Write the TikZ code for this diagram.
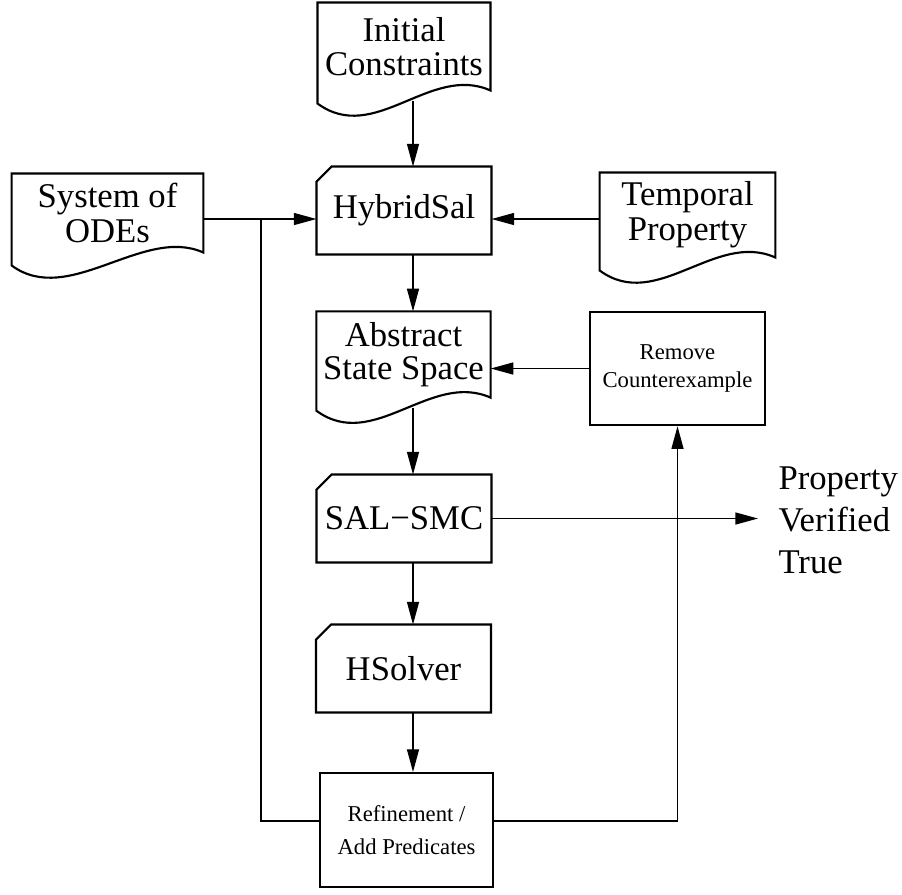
\documentclass[tikz,border=0pt]{standalone}
\usepackage{fontspec}
\setmainfont{Liberation Serif}
\usetikzlibrary{arrows.meta,calc}

\tikzset{every picture/.style={line width=0.75pt}}
\tikzset{
  boxline/.style={line width=1.6pt, line join=miter},
  doc/.style={minimum width=129pt, minimum height=64pt, inner sep=0pt, align=center},
  card/.style={minimum width=130.5pt, minimum height=65.25pt, inner sep=0pt, align=center, font=\fontsize{26}{28}\selectfont},
  plainbox/.style={boxline, draw, minimum width=131pt, minimum height=85pt, inner sep=0pt, align=center},
  arr/.style={line width=1pt, -{Triangle[length=17pt,width=9pt]}},
  conn/.style={line width=1pt},
}

% outline of a document shape (wavy bottom)
\newcommand{\docout}[1]{%
  \draw[boxline] (#1.south east) -- (#1.north east) -- (#1.north west) -- ($(#1.south west)+(0,13)$)
    .. controls +(57,42) and +(-60,-27) .. (#1.south east) -- cycle;}
% outline of a card shape (cut corner)
\newcommand{\cardout}[1]{%
  \draw[boxline] ($(#1.north west)+(0,15)$) -- ($(#1.north west)+(15,0)$) -- (#1.north east)
    -- (#1.south east) -- (#1.south west) -- cycle;}

\begin{document}
\begin{tikzpicture}[x=0.75pt,y=0.75pt,yscale=-1,xscale=1]
\useasboundingbox (0,0) rectangle (902,894);

%Shape: Documents
\node [doc, font=\fontsize{26}{25}\selectfont, minimum height=65.25pt] (init) at (404,46.5) {Initial\\Constraints};
\node [doc, font=\fontsize{26}{26}\selectfont, minimum width=143pt, minimum height=58.5pt] (odes) at (107.5,213) {System of\\ODEs};
\node [doc, font=\fontsize{26}{26}\selectfont, minimum width=131pt, minimum height=63pt] (temp) at (687.5,215) {Temporal\\Property};
\node [doc, font=\fontsize{26}{25}\selectfont, minimum width=130pt] (abs) at (403.5,354.5) {Abstract\\State Space};
\docout{init}
\docout{odes}
\docout{temp}
\docout{abs}

%Shape: Cards
\node [card] (hyb) at (404,210.5) {HybridSal};
\node [card] (sal) at (404,518.5) {SAL−SMC};
\node [card] (hsol) at (403.5,668.5) {HSolver};
\cardout{hyb}
\cardout{sal}
\cardout{hsol}

%Shape: Boxes
\node [plainbox, font=\fontsize{17}{21}\selectfont] (rem) at (677.5,368.5) {Remove\\Counterexample};
\node [plainbox, font=\fontsize{17}{24.5}\selectfont, minimum width=130pt, minimum height=85.5pt] (ref) at (406.5,830) {Refinement /\\Add Predicates};

% Text Node
\node [anchor=west, inner xsep=15pt, inner ysep=0pt, align=left, font=\fontsize{26}{31.5}\selectfont] (prop) at (758,520) {Property\\Verified\\True};

\coordinate (spine) at (413,0);
\coordinate (hub) at (261,219);

%Straight Lines
\draw [arr, shorten <=7.5pt] (init.south -| spine) -- (hyb.north -| spine);
\draw [arr] (hyb.south -| spine) -- (abs.north -| spine);
\draw [arr, shorten <=7.5pt] (abs.south -| spine) -- (sal.north -| spine);
\draw [arr] (sal.south -| spine) -- (hsol.north -| spine);
\draw [arr] (hsol.south -| spine) -- (ref.north -| spine);
\draw [arr] (odes.east |- hub) -- (hyb.west |- hub);
\draw [arr] (temp.west |- hub) -- (hyb.east |- hub);
\draw [arr] (rem.west) -- (abs.east |- rem.west);
\draw [arr] (sal.east) -- (prop.west |- sal.east);
\draw [conn] ([yshift=-6.75pt]ref.west) -| (hub);
\draw [arr] ([yshift=-6.75pt]ref.east) -| (rem.south);

\end{tikzpicture}
\end{document}
